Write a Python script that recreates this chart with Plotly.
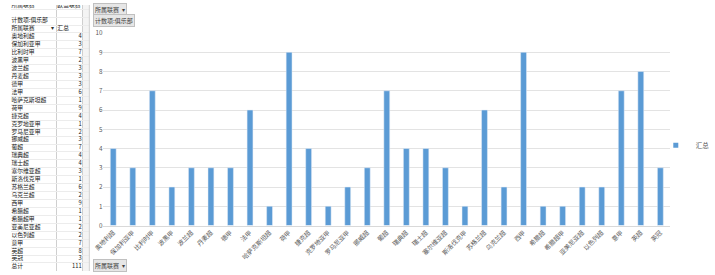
import plotly.graph_objects as go

leagues = ["奥地利超", "保加利亚甲", "比利时甲", "波黑甲", "波兰超", "丹麦超", "德甲", "法甲",
           "哈萨克斯坦超", "荷甲", "捷克超", "克罗地亚甲", "罗马尼亚甲", "挪威超", "葡超",
           "瑞典超", "瑞士超", "塞尔维亚超", "斯洛伐克甲", "苏格兰超", "乌克兰超", "西甲",
           "希腊超", "希腊超甲", "亚美尼亚超", "以色列超", "意甲", "英超", "英冠"]
counts = [4, 3, 7, 2, 3, 3, 3, 6, 1, 9, 4, 1, 2, 3, 7, 4, 4, 3, 1, 6, 2, 9, 1, 1, 2, 2, 7, 8, 3]
series_name = "汇总"
y_ticks = list(range(0, 11))

FONT = "Noto Sans CJK SC"
W, H = 715, 275

# pivot table rows (left sheet area)
col1 = ["所属联赛", "", "计数项:俱乐部", "所属联赛"] + leagues + ["总计"]
col2 = ["欧盟联赛", "", "", series_name] + [str(c) for c in counts] + [str(sum(counts))]
rows = list(range(len(col1)))
ROW_PX = 8.2
TOP_OFF = 0.2
TFS = 5.8

fig = go.Figure()

# table text via a second pair of axes
fig.add_trace(go.Scatter(
    x=[0.5] * len(rows), y=rows, mode="text", text=col1, textposition="middle right",
    textfont=dict(family=FONT, size=TFS, color="#1a1a1a"), xaxis="x2", yaxis="y2",
    showlegend=False, hoverinfo="skip"))
num_x = [74 if i != 0 and i != 3 else 48.5 for i in rows]
num_pos = ["middle left" if i != 0 and i != 3 else "middle right" for i in rows]
fig.add_trace(go.Scatter(
    x=num_x, y=rows, mode="text", text=col2, textposition=num_pos,
    textfont=dict(family=FONT, size=TFS, color="#1a1a1a"), xaxis="x2", yaxis="y2",
    showlegend=False, hoverinfo="skip"))
fig.add_trace(go.Scatter(
    x=[43.5], y=[3], mode="text", text=["▾"], textposition="middle center",
    textfont=dict(family=FONT, size=TFS, color="#333"), xaxis="x2", yaxis="y2",
    showlegend=False, hoverinfo="skip"))

fig.add_trace(go.Bar(
    x=leagues, y=counts, name=series_name, marker_color="#5B9BD5",
    showlegend=False,
))
fig.add_trace(go.Scatter(
    x=[None], y=[None], mode="markers", name=series_name,
    marker=dict(symbol="square", size=5, color="#5B9BD5"), showlegend=True))

r_top = -TOP_OFF / ROW_PX
r_bot = (H - TOP_OFF) / ROW_PX

fig.update_layout(
    width=W, height=H,
    margin=dict(l=0, r=0, t=0, b=0),
    paper_bgcolor="white", plot_bgcolor="white",
    font=dict(family=FONT, size=6, color="#595959"),
    bargap=0.7,
    xaxis=dict(domain=[96.8 / W, 690 / W], tickangle=-45, showgrid=False,
               showline=True, linecolor="#d9d9d9", ticks="",
               tickfont=dict(size=6.3, color="#595959")),
    yaxis=dict(domain=[1 - 228 / H, 1 - 29 / H], range=[0, 10], tickvals=y_ticks,
               showgrid=True, gridcolor="#e3e3e3", zeroline=False,
               tickfont=dict(size=6.3, color="#595959"), ticks="", ticklen=0),
    xaxis2=dict(domain=[0, 82 / W], range=[0, 82], anchor="y2",
                tickvals=[48, 75], showticklabels=False, showgrid=True,
                gridcolor="#cfcfcf", zeroline=False, fixedrange=True),
    yaxis2=dict(domain=[0, 1], range=[r_bot, r_top], anchor="x2",
                tickvals=[r + 0.5 for r in rows], showticklabels=False, showgrid=True,
                gridcolor="#ececec", zeroline=False, fixedrange=True),
    legend=dict(x=675 / W, y=1 - 145 / H, xanchor="left", yanchor="middle",
                bgcolor="rgba(0,0,0,0)", font=dict(size=6.5, color="#595959"),
                itemwidth=30),
)

btn = dict(xref="paper", yref="paper", showarrow=False, bgcolor="#e6e6e6",
           bordercolor="#c0c0c0", borderwidth=1, borderpad=1,
           font=dict(family=FONT, size=6, color="#404040"), xanchor="left", yanchor="middle")
fig.add_annotation(text="所属联赛  ▾", x=86 / W, y=1 - 5 / H, **btn)
fig.add_annotation(text="计数项:俱乐部", x=86 / W, y=1 - 16 / H, **btn)
fig.add_annotation(text="所属联赛  ▾", x=86 / W, y=1 - 269 / H, **btn)

# third (partial) sheet column shading and chart object border
fig.add_shape(type="rect", xref="paper", yref="paper", x0=75 / W, x1=82 / W, y0=0, y1=1,
              fillcolor="#f4f4f4", line=dict(width=0), layer="below")
fig.add_shape(type="line", xref="paper", yref="paper", x0=82 / W, x1=82 / W, y0=0, y1=1,
              line=dict(color="#d0d0d0", width=1))

fig.write_html("out.html")
